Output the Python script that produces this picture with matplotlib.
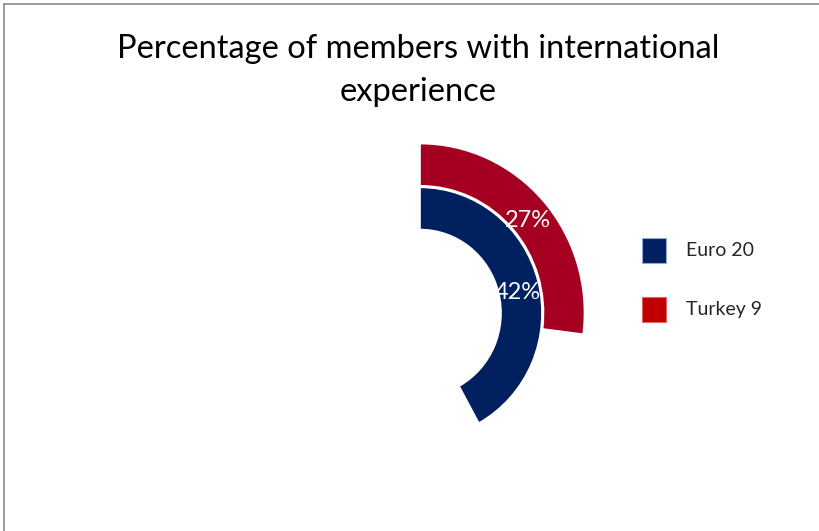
import numpy as np
import matplotlib.pyplot as plt
from matplotlib.lines import Line2D
from matplotlib.patches import Rectangle

plt.rcParams['font.family'] = ['Lato', 'DejaVu Sans']

# Datos de las dos series (anillo interior y exterior)
series = ['Euro 20', 'Turkey 9']
porcentajes = [42, 27]
colores_anillo = ['#002060', '#A50021']
colores_leyenda = ['#002060', '#C00000']
titulo = ['Percentage of members with international', 'experience']

W, H = 819, 531
fig = plt.figure(figsize=(W / 100, H / 100), dpi=100)
ax = fig.add_axes([0, 0, 1, 1])

# el gráfico original está ligeramente estirado en vertical
k = 1.03
cx, cy = 420, (H - 313) / k
radios = [122, 164.5]   # radio exterior de cada anillo
ancho = 41

for p, col, r in zip(porcentajes, colores_anillo, radios):
    wedges, _ = ax.pie([p, 100 - p], radius=r, center=(cx, cy), startangle=90,
                       counterclock=False, frame=True,
                       wedgeprops=dict(width=ancho, edgecolor='white', linewidth=1.2))
    wedges[0].set_facecolor(col)
    wedges[1].set_facecolor('none')
    wedges[1].set_edgecolor('none')
    # etiqueta en el centro del segmento
    ang = np.deg2rad(90 - p / 100 * 360 / 2)
    rm = r - ancho / 2
    ax.text(cx + rm * np.cos(ang), cy + rm * np.sin(ang) - 3, f'{p}%',
            color='white', fontsize=17, ha='center', va='center_baseline')

ax.set_aspect('auto')
ax.set_xlim(0, W)
ax.set_ylim(0, H / k)
ax.axis('off')

# leyenda
ys = [250, 309]
for nombre, col, y in zip(series, colores_leyenda, ys):
    fig.add_artist(Rectangle((642 / W, 1 - (y + 13) / H), 24 / W, 25 / H,
                             transform=fig.transFigure, facecolor=col,
                             edgecolor='#8EA9DB' if col == '#002060' else '#E06666',
                             linewidth=0.8))
    fig.text(686 / W, 1 - y / H, nombre, fontsize=14, color='#262626',
             va='center', ha='left')

# título en dos líneas
for linea, yb in zip(titulo, [58, 101]):
    fig.text(418 / W, 1 - yb / H, linea, fontsize=23.5, ha='center', va='baseline',
             color='black')

# marco del área del gráfico
fig.add_artist(Line2D([4 / W, 4 / W], [0, 1 - 4 / H], color='#8C8C8C', linewidth=1.2))
fig.add_artist(Line2D([4 / W, 1], [1 - 4 / H, 1 - 4 / H], color='#8C8C8C', linewidth=1.2))

plt.savefig('out.png', dpi=100)
